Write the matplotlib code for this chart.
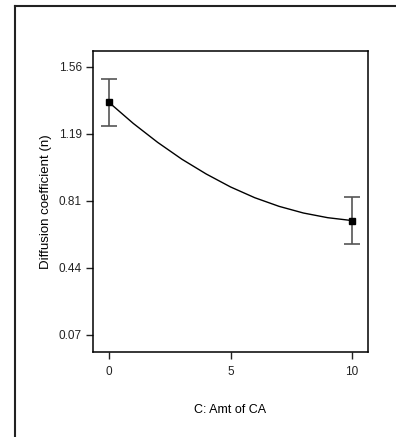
import matplotlib.pyplot as plt
from matplotlib.lines import Line2D

plt.rcParams['font.family'] = ['Liberation Sans', 'DejaVu Sans']
plt.rcParams['font.size'] = 8.5

# design points with error bars
amt = [0, 10]
coef = [1.364, 0.707]
err = [0.132, 0.133]

# fitted curve
curve_x = [0, 1, 2, 3, 4, 5, 6, 7, 8, 9, 10]
curve_y = [1.364, 1.247, 1.142, 1.048, 0.966, 0.894, 0.834, 0.786, 0.749, 0.723, 0.707]

y_ticks = [0.0725, 0.445, 0.8175, 1.19, 1.5625]
y_labels = ['0.07', '0.44', '0.81', '1.19', '1.56']
x_ticks = [0, 5, 10]

fig = plt.figure(figsize=(3.96, 4.37), dpi=100)

# outer frame (left and top edges only visible)
fig.add_artist(Line2D([15/396, 15/396], [0, 1 - 6/437], color='#222222', lw=1.5))
fig.add_artist(Line2D([15/396, 1], [1 - 6/437, 1 - 6/437], color='#222222', lw=1.5))

ax = fig.add_axes([93/396, 1 - 352/437, (368-93)/396, (352-51)/437])

ax.plot(curve_x, curve_y, color='black', lw=1)
ax.errorbar(amt, coef, yerr=err, fmt='none', ecolor='#555555', elinewidth=1.2,
            capsize=6, capthick=1.2)
ax.plot(amt, coef, 's', color='black', markersize=4.5)

ax.set_xlim(-0.66, 10.66)
ax.set_ylim(-0.024, 1.65)
ax.set_xticks(x_ticks)
ax.set_yticks(y_ticks)
ax.set_yticklabels(y_labels)
ax.tick_params(direction='out', length=5, width=1, pad=3, colors='#222222')
ax.tick_params(axis='x', pad=5)
for s in ax.spines.values():
    s.set_linewidth(1.1)

ax.set_xlabel('C: Amt of CA', fontsize=9, labelpad=19)
ax.set_ylabel('Diffusion coefficient (n)', fontsize=9.5, labelpad=5)

fig.savefig('out.png', dpi=100)
